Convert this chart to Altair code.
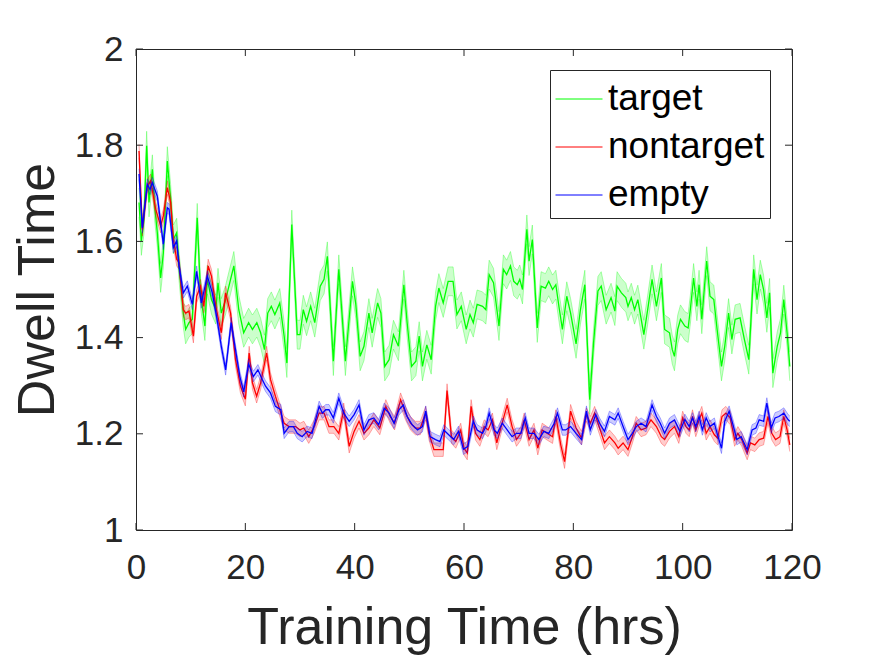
import altair as alt
import pandas as pd

# ---------------- data ----------------
series_names = ["target", "nontarget", "empty"]
series_colors = ["#00ff00", "#ff0000", "#0000ff"]
series_se = [0.03, 0.014, 0.011]

x_ticks = [0, 20, 40, 60, 80, 100, 120]
y_ticks = [1, 1.2, 1.4, 1.6, 1.8, 2]

target_pts = [
    (0.55, 1.681), (0.98, 1.601), (1.46, 1.646), (1.95, 1.799), (2.38, 1.681), (2.99, 1.750), (3.41, 1.674), (3.9, 1.618), (4.51, 1.524), (5.0, 1.576),
    (5.73, 1.767), (6.34, 1.688), (6.83, 1.604), (7.44, 1.618), (7.87, 1.549), (8.66, 1.451), (9.08, 1.417), (9.69, 1.431), (10.3, 1.438), (11.2, 1.649),
    (11.8, 1.493), (12.6, 1.424), (13.05, 1.521), (13.8, 1.479), (14.6, 1.458), (15.0, 1.514), (15.6, 1.451), (16.4, 1.479), (17.0, 1.507), (17.9, 1.549),
    (18.8, 1.458), (19.7, 1.410), (20.6, 1.431), (21.3, 1.417), (22.1, 1.431), (22.8, 1.410), (23.5, 1.375), (24.1, 1.451), (24.75, 1.465), (25.4, 1.448),
    (26.3, 1.472), (27.1, 1.403), (27.6, 1.347), (28.5, 1.635), (29.5, 1.406), (30.0, 1.406), (30.6, 1.458), (31.2, 1.434), (31.95, 1.465), (32.7, 1.431),
    (33.7, 1.507), (34.4, 1.521), (35.0, 1.569), (36.1, 1.351), (37.1, 1.542), (38.3, 1.351), (39.6, 1.517), (40.2, 1.470), (41.0, 1.361), (41.7, 1.382),
    (42.6, 1.451), (43.2, 1.410), (44.2, 1.472), (44.8, 1.451), (45.5, 1.340), (46.3, 1.354), (47.1, 1.406), (48.0, 1.382), (49.0, 1.510), (49.6, 1.431),
    (50.4, 1.340), (51.2, 1.351), (51.8, 1.403), (52.4, 1.340), (53.2, 1.385), (54.0, 1.354), (54.8, 1.465), (55.4, 1.503), (56.2, 1.472), (57.1, 1.517),
    (58.0, 1.517), (58.7, 1.448), (59.5, 1.465), (60.4, 1.417), (61.1, 1.448), (61.7, 1.431), (62.4, 1.469), (63.4, 1.465), (64.0, 1.458), (64.6, 1.531),
    (65.4, 1.514), (66.4, 1.424), (67.2, 1.542), (67.8, 1.531), (68.5, 1.549), (69.1, 1.517), (69.75, 1.510), (70.2, 1.521), (70.7, 1.500), (71.5, 1.625),
    (71.9, 1.559), (72.5, 1.604), (73.4, 1.420), (74.1, 1.507), (74.9, 1.503), (75.5, 1.517), (76.2, 1.500), (76.8, 1.510), (77.4, 1.462), (78.0, 1.417),
    (78.8, 1.486), (79.5, 1.451), (80.5, 1.387), (81.3, 1.458), (82.1, 1.510), (83.0, 1.271), (83.7, 1.389), (84.5, 1.497), (85.1, 1.507), (86.0, 1.458),
    (86.9, 1.483), (87.6, 1.455), (88.0, 1.507), (88.8, 1.493), (89.6, 1.483), (90.0, 1.465), (90.6, 1.483), (91.2, 1.458), (91.8, 1.479), (92.9, 1.406),
    (93.6, 1.458), (94.4, 1.521), (95.2, 1.465), (96.1, 1.524), (96.7, 1.417), (97.6, 1.410), (98.1, 1.375), (98.5, 1.361), (99.1, 1.417), (99.6, 1.438),
    (100.4, 1.424), (101.0, 1.420), (101.4, 1.458), (102.0, 1.524), (102.6, 1.465), (103.0, 1.510), (103.5, 1.438), (104.0, 1.507), (104.4, 1.559), (105.0, 1.486),
    (105.7, 1.479), (106.3, 1.417), (107.1, 1.340), (107.7, 1.382), (108.4, 1.451), (109.0, 1.396), (109.6, 1.438), (110.5, 1.441), (111.3, 1.396), (112.1, 1.354),
    (113.0, 1.542), (113.6, 1.479), (114.2, 1.531), (114.8, 1.500), (115.4, 1.441), (115.9, 1.493), (116.5, 1.326), (117.3, 1.382), (117.9, 1.410), (118.5, 1.479),
    (119.1, 1.410), (119.6, 1.340),
]

nontarget_pts = [
    (0.55, 1.788), (1.16, 1.625), (2.07, 1.715), (2.68, 1.726), (3.6, 1.667), (4.51, 1.632), (5.0, 1.653), (5.73, 1.712), (6.34, 1.681), (6.83, 1.604),
    (7.44, 1.563), (7.87, 1.556), (8.66, 1.458), (9.08, 1.451), (9.69, 1.455), (10.5, 1.403), (11.1, 1.486), (11.8, 1.507), (12.4, 1.465), (13.2, 1.549),
    (13.8, 1.528), (14.6, 1.465), (15.6, 1.410), (16.4, 1.493), (17.3, 1.451), (18.2, 1.354), (19.1, 1.299), (20.0, 1.272), (20.7, 1.368), (21.3, 1.306),
    (22.07, 1.278), (22.8, 1.306), (23.9, 1.368), (24.6, 1.313), (25.5, 1.278), (26.5, 1.243), (27.1, 1.222), (28.0, 1.215), (29.2, 1.215), (30.0, 1.208),
    (30.7, 1.212), (31.6, 1.194), (32.6, 1.215), (33.5, 1.243), (34.4, 1.243), (35.3, 1.215), (36.2, 1.215), (37.1, 1.201), (38.0, 1.250), (39.0, 1.174),
    (39.9, 1.205), (40.8, 1.226), (41.7, 1.201), (42.6, 1.212), (43.5, 1.229), (44.6, 1.212), (45.7, 1.257), (46.5, 1.236), (47.3, 1.222), (48.4, 1.271),
    (49.3, 1.243), (50.2, 1.222), (51.1, 1.212), (52.0, 1.212), (53.0, 1.243), (53.6, 1.201), (54.5, 1.167), (55.4, 1.167), (56.2, 1.167), (56.9, 1.290),
    (57.7, 1.194), (58.5, 1.184), (59.4, 1.208), (60.0, 1.170), (60.6, 1.160), (61.3, 1.257), (62.1, 1.201), (62.9, 1.188), (63.7, 1.215), (64.4, 1.208),
    (65.2, 1.229), (66.0, 1.181), (66.8, 1.215), (67.9, 1.260), (68.8, 1.215), (69.6, 1.188), (70.4, 1.201), (71.0, 1.229), (71.9, 1.188), (72.8, 1.208),
    (73.5, 1.170), (74.3, 1.208), (75.2, 1.201), (76.2, 1.194), (76.8, 1.236), (77.7, 1.177), (78.4, 1.142), (79.5, 1.247), (80.5, 1.212), (81.5, 1.191),
    (82.4, 1.240), (83.1, 1.222), (83.9, 1.243), (84.8, 1.212), (85.7, 1.181), (86.6, 1.194), (87.6, 1.181), (88.2, 1.170), (89.1, 1.181), (90.0, 1.167),
    (90.8, 1.194), (91.5, 1.222), (92.4, 1.208), (93.3, 1.212), (94.2, 1.229), (95.2, 1.215), (96.1, 1.194), (96.7, 1.188), (97.6, 1.205), (98.5, 1.215),
    (99.3, 1.194), (100.0, 1.233), (100.6, 1.215), (101.2, 1.208), (101.8, 1.236), (102.4, 1.208), (103.0, 1.229), (103.5, 1.243), (104.3, 1.201), (105.0, 1.215),
    (105.8, 1.198), (106.4, 1.191), (107.2, 1.236), (107.9, 1.243), (108.7, 1.233), (109.5, 1.188), (110.1, 1.201), (110.8, 1.188), (111.8, 1.160), (112.4, 1.181),
    (113.2, 1.177), (114.0, 1.188), (114.8, 1.191), (115.6, 1.236), (116.3, 1.201), (117.0, 1.188), (117.8, 1.194), (118.5, 1.236), (119.1, 1.208), (119.6, 1.177),
]

empty_pts = [
    (0.55, 1.740), (1.16, 1.628), (2.07, 1.719), (2.56, 1.708), (2.99, 1.722), (3.9, 1.694), (5.0, 1.594), (5.73, 1.670), (6.04, 1.667), (6.83, 1.587),
    (7.44, 1.601), (7.87, 1.549), (8.66, 1.493), (9.39, 1.507), (10.3, 1.469), (11.1, 1.538), (11.95, 1.472), (13.05, 1.528), (13.96, 1.493), (14.8, 1.440),
    (15.6, 1.382), (16.4, 1.333), (17.4, 1.431), (18.2, 1.375), (19.0, 1.319), (19.7, 1.287), (20.6, 1.345), (21.46, 1.319), (22.3, 1.333), (23.1, 1.313),
    (23.7, 1.299), (24.6, 1.285), (25.5, 1.257), (26.5, 1.250), (27.1, 1.201), (28.0, 1.215), (28.8, 1.215), (29.5, 1.201), (30.4, 1.194), (31.3, 1.205),
    (32.2, 1.201), (33.5, 1.257), (34.1, 1.243), (34.7, 1.250), (35.3, 1.250), (36.1, 1.233), (37.1, 1.274), (38.0, 1.243), (39.0, 1.226), (39.9, 1.240),
    (40.8, 1.260), (41.7, 1.208), (42.6, 1.229), (43.5, 1.233), (44.4, 1.219), (45.4, 1.253), (46.3, 1.243), (47.2, 1.222), (48.1, 1.250), (48.9, 1.260),
    (49.6, 1.236), (50.5, 1.219), (51.5, 1.208), (52.4, 1.215), (53.0, 1.247), (53.8, 1.194), (54.8, 1.188), (55.6, 1.184), (56.3, 1.208), (57.2, 1.198),
    (58.1, 1.188), (59.0, 1.205), (59.9, 1.168), (60.7, 1.174), (61.7, 1.226), (62.4, 1.208), (63.4, 1.201), (64.0, 1.215), (64.6, 1.243), (65.5, 1.208),
    (66.1, 1.201), (67.0, 1.222), (67.9, 1.208), (68.8, 1.194), (69.6, 1.201), (70.4, 1.201), (71.2, 1.233), (71.9, 1.201), (72.8, 1.201), (73.7, 1.188),
    (74.6, 1.205), (75.5, 1.201), (76.5, 1.222), (77.1, 1.243), (78.0, 1.208), (78.6, 1.208), (79.5, 1.215), (80.5, 1.201), (81.5, 1.188), (82.4, 1.247),
    (83.1, 1.208), (84.1, 1.240), (84.8, 1.222), (85.7, 1.205), (86.6, 1.236), (87.6, 1.229), (88.2, 1.243), (89.1, 1.215), (90.0, 1.188), (90.8, 1.201),
    (91.5, 1.215), (92.4, 1.222), (93.3, 1.215), (94.4, 1.260), (95.2, 1.236), (95.9, 1.222), (96.7, 1.201), (97.6, 1.222), (98.5, 1.229), (99.5, 1.205),
    (100.4, 1.230), (101.2, 1.215), (101.8, 1.233), (102.4, 1.215), (103.0, 1.236), (103.6, 1.208), (104.3, 1.233), (105.0, 1.215), (105.8, 1.222), (106.3, 1.201),
    (107.1, 1.170), (107.7, 1.226), (108.5, 1.247), (109.3, 1.215), (109.9, 1.188), (110.7, 1.194), (111.8, 1.167), (112.7, 1.208), (113.4, 1.212), (114.0, 1.229),
    (114.8, 1.226), (115.4, 1.264), (116.2, 1.212), (116.9, 1.233), (117.6, 1.236), (118.5, 1.243), (119.3, 1.229), (119.6, 1.226),
]

# ---------------- build table ----------------
frames = []
for name, pts, se in zip(series_names, [target_pts, nontarget_pts, empty_pts], series_se):
    df = pd.DataFrame(pts, columns=["t", "v"])
    df["series"] = name
    df["lo"] = df["v"] - se
    df["hi"] = df["v"] + se
    frames.append(df)
data = pd.concat(frames, ignore_index=True)

W, H = 656, 481
FONT = "Liberation Sans"
TXT = "#262626"
TICK_LEN = 7

x_scale = alt.Scale(domain=[0, 120], nice=False, zero=False)
y_scale = alt.Scale(domain=[1, 2], nice=False, zero=False)
x_axis = alt.Axis(values=x_ticks, title="Training Time (hrs)", labelFlush=False,
                  labelOverlap=False, labelPadding=20, titlePadding=17)
y_axis = alt.Axis(values=y_ticks, title="Dwell Time", format="~g", labelFlush=False,
                  labelOverlap=False, labelPadding=13, titlePadding=10)


def xe(field="t"):
    return alt.X(f"{field}:Q", scale=x_scale, axis=x_axis, title="Training Time (hrs)")


def ye(field="v"):
    return alt.Y(f"{field}:Q", scale=y_scale, axis=y_axis, title="Dwell Time")


color_enc = alt.Color(
    "series:N",
    scale=alt.Scale(domain=series_names, range=series_colors),
    legend=alt.Legend(
        title=None, orient="none", legendX=414, legendY=21, direction="vertical",
        symbolType="stroke", symbolSize=2209, symbolStrokeWidth=1,
        labelFont=FONT, labelFontSize=37, labelColor="black", labelLimit=400,
        labelOffset=5, strokeColor=TXT, fillColor="white", padding=5, rowPadding=6,
    ),
)

base = alt.Chart(data)
layers = []
for name, col in zip(series_names, series_colors):
    sub = base.transform_filter(alt.datum.series == name)
    layers.append(sub.mark_area(fill=col, fillOpacity=0.2, strokeWidth=0).encode(
        x=xe(), y=ye("hi"), y2=alt.Y2("lo:Q")))
    layers.append(sub.mark_line(color=col, opacity=0.35, strokeWidth=0.9).encode(
        x=xe(), y=ye("lo"), order="t:Q"))
    layers.append(sub.mark_line(color=col, opacity=0.35, strokeWidth=0.9).encode(
        x=xe(), y=ye("hi"), order="t:Q"))
    layers.append(sub.mark_line(strokeWidth=1.3).encode(
        x=xe(), y=ye("v"), color=color_enc, order="t:Q"))

# inward tick marks on all four sides (box style axes)
xt = alt.Chart(pd.DataFrame({"t": x_ticks}))
yt = alt.Chart(pd.DataFrame({"v": y_ticks}))
layers.append(xt.mark_rule(color=TXT, strokeWidth=1).encode(
    x=xe(), y=alt.value(H), y2=alt.value(H - TICK_LEN)))
layers.append(xt.mark_rule(color=TXT, strokeWidth=1).encode(
    x=xe(), y=alt.value(0), y2=alt.value(TICK_LEN)))
layers.append(yt.mark_rule(color=TXT, strokeWidth=1).encode(
    y=ye(), x=alt.value(0), x2=alt.value(TICK_LEN)))
layers.append(yt.mark_rule(color=TXT, strokeWidth=1).encode(
    y=ye(), x=alt.value(W), x2=alt.value(W - TICK_LEN)))

chart = alt.layer(*layers).properties(
    width=W, height=H,
    autosize=alt.AutoSizeParams(type="none"),
    padding={"left": 128, "top": 41, "right": 70, "bottom": 126},
    background="white",
).configure_view(
    stroke=TXT, strokeWidth=1
).configure_axis(
    grid=False, ticks=False, domain=False,
    labelFont=FONT, labelFontSize=35, labelColor=TXT,
    titleFont=FONT, titleFontSize=52, titleFontWeight="normal", titleColor=TXT,
)

chart.save("out.html", embed_options={"renderer": "svg", "actions": False})
